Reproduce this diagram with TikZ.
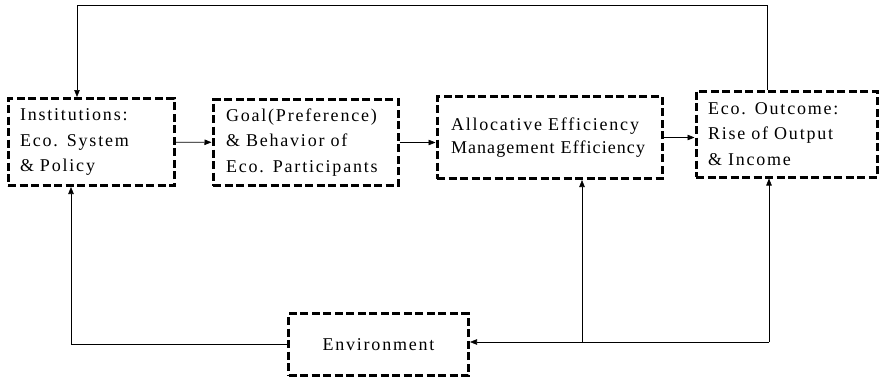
\documentclass[tikz,border=0pt]{standalone}
\usepackage{fontspec}
\setmainfont{Liberation Serif}
\newfontfamily\spacedfont{Liberation Serif}[LetterSpace=10, WordSpace=1.4]
\usetikzlibrary{arrows.meta, positioning, calc}

\begin{document}
\begin{tikzpicture}[x=1pt, y=-1pt, >={Triangle[length=7pt, width=5.5pt]}]
	% Define styles
	\tikzstyle{block} = [draw, rectangle, line width=3pt, dash pattern=on 8pt off 3.5pt, inner xsep=12pt, align=left, font=\spacedfont\fontsize{18}{25.5}\selectfont]
	\tikzstyle{line} = [draw, ->, line width=0.6pt]

	% Frame
	\useasboundingbox (0,0) rectangle (879,380);

	% Institutions block
	\node [block, text width=142pt, minimum height=87pt] (institutions) at (91,142) {Institutions:\\Eco. System\\\& Policy};

	% Goal / behaviour block
	\node [block, inner xsep=13pt, text width=159pt, minimum height=86pt] (goal) at (305.5,142.5) {Goal(Preference)\\\& Behavior of\\Eco. Participants};

	% Efficiency block
	\node [block, inner xsep=14pt, text width=197pt, minimum height=82pt, font=\spacedfont\fontsize{18}{23}\selectfont] (efficiency) at (549.5,137.5) {Allocative Efficiency\\{\addfontfeature{LetterSpace=6}Management Efficiency}};

	% Outcome block
	\node [block, text width=157pt, minimum height=86pt] (outcome) at (786.5,134) {Eco. Outcome:\\Rise of Output\\\& Income};

	% Environment block
	\node [block, align=center, minimum width=180pt, minimum height=62pt] (environment) at (378.5,344.5) {Environment};

	% Turning points
	\coordinate (topright) at (767,5);
	\coordinate (topleft) at (77,5);
	\coordinate (envmid) at (582,342);
	\coordinate (envright) at (769,342);

	% Arrows along the chain
	\draw [line] (institutions) -- (goal);
	\draw [line] (goal.east) -- (goal.east -| efficiency.west);
	\draw [line] (efficiency.east) -- (efficiency.east -| outcome.west);

	% Feedback from outcome to institutions
	\draw [line] (outcome.north -| topright) -- (topright) -- (topleft) -- (topleft |- institutions.north);

	% Environment acts on all sides
	\draw [line] (environment.west) -| ([xshift=-20]institutions.south);
	\draw [line] (envright) -- (environment.east |- envright);
	\draw [line] (envmid) -- (envmid |- efficiency.south);
	\draw [line] (envright) -- (envright |- outcome.south);

\end{tikzpicture}
\end{document}
